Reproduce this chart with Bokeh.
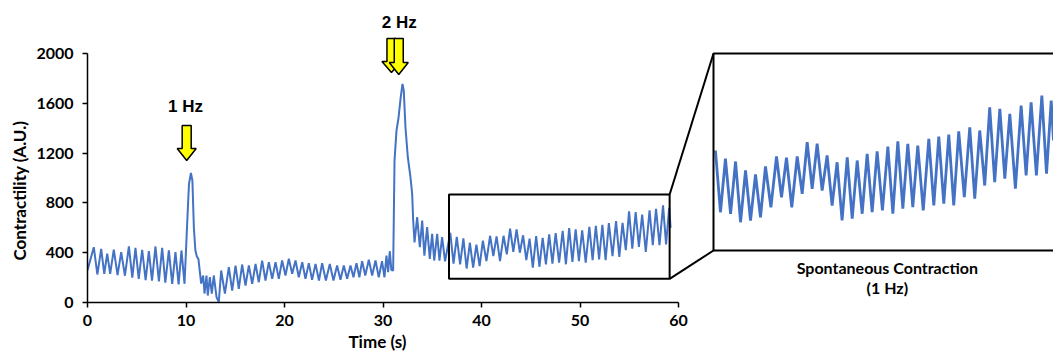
from bokeh.plotting import figure
from bokeh.models import Range1d, FixedTicker, Title
from bokeh.core.properties import value
from bokeh.embed import file_html
from bokeh.resources import INLINE

# ---------------- data (turning points of the recorded trace) ----------------
time_s = [
    0.0, 0.64, 1.0, 1.39, 1.7, 2.0, 2.3, 2.67, 3.05, 3.42, 3.8, 4.2, 4.55, 4.87, 5.2, 5.55, 5.9,
    6.23, 6.55, 6.9, 7.25, 7.58, 7.9, 8.26, 8.6, 8.93, 9.25, 9.54, 9.85,
    10.1, 10.3, 10.5, 10.65, 10.8, 10.95, 11.1, 11.26, 11.54, 11.74, 11.88, 12.08, 12.21, 12.42,
    12.62, 12.82, 13.1, 13.33, 13.57, 13.95,
    14.35, 14.69, 15.03, 15.36, 15.70, 16.04, 16.38, 16.72, 17.06, 17.39, 17.73, 18.07, 18.41,
    18.75, 19.09, 19.42, 19.76, 20.10, 20.44, 20.78,
    21.12, 21.45, 21.8, 22.13, 22.47, 22.8, 23.15, 23.5, 23.82, 24.2, 24.6, 24.97, 25.34, 25.68,
    26.02, 26.36, 26.7, 27.0, 27.31, 27.6, 27.88, 28.2, 28.56, 28.9, 29.24, 29.57, 29.9, 30.15,
    30.35, 30.52, 30.69, 30.85,
    31.03, 31.17, 31.37, 31.57, 31.8, 31.98, 32.11, 32.28, 32.52, 32.79, 32.96, 33.06, 33.2,
    33.47, 33.74, 33.98, 34.2, 34.48, 34.75, 34.99, 35.2, 35.5, 35.73, 36.0, 36.3,
    36.83, 37.16, 37.49, 37.83, 38.16, 38.49, 38.82, 39.15, 39.48, 39.81, 40.14, 40.5, 40.87,
    41.2, 41.53, 41.88, 42.24, 42.57, 42.9, 43.23, 43.56, 43.89, 44.22, 44.55, 44.88, 45.21,
    45.55, 45.88, 46.21, 46.54, 46.87, 47.2, 47.53, 47.88, 48.24, 48.57, 48.9, 49.23, 49.56,
    49.89, 50.22, 50.58, 50.95, 51.28, 51.61, 51.94, 52.27, 52.6, 52.93, 53.3, 53.66, 53.99,
    54.32, 54.65, 54.98, 55.31, 55.65, 55.98, 56.31, 56.68, 57.06, 57.39, 57.72, 58.07, 58.43,
    58.74, 59.05, 59.2,
]
contractility = [
    260, 444, 225, 431, 230, 393, 230, 425, 220, 404, 215, 450, 200, 439, 190, 423, 180,
    412, 175, 450, 170, 439, 160, 418, 150, 404, 145, 418, 150,
    600, 950, 1040, 980, 600, 420, 370, 350, 152, 217, 72, 217, 56, 203,
    72, 217, 43, 3, 257, 72,
    284, 96, 297, 110, 305, 136, 297, 150, 310, 163, 337, 177, 324,
    190, 324, 190, 337, 217, 351, 230,
    337, 203, 324, 190, 316, 182, 310, 177, 316, 177, 310, 177, 297, 182,
    297, 190, 297, 203, 316, 203, 332, 217, 343, 217, 337, 203, 332, 203,
    377, 244, 412, 260,
    257, 1140, 1381, 1480, 1650, 1756, 1700, 1408, 1167, 1006, 873, 666, 482,
    685, 444, 658, 377, 605, 350, 551, 337, 551, 337, 525, 330,
    560, 313, 527, 307, 516, 273, 480, 280, 464, 293, 496, 333, 536,
    373, 531, 333, 536, 387, 593, 407, 587, 400, 540, 340, 513, 280,
    533, 287, 520, 307, 547, 313, 557, 320, 576, 307, 597, 327, 587,
    333, 580, 320, 607, 340, 616, 347, 624, 340, 637, 373, 653, 367,
    640, 420, 733, 433, 727, 447, 707, 407, 740, 460, 753, 460, 780,
    467, 760, 600,
]

x_ticks = [0, 10, 20, 30, 40, 50, 60]
y_ticks = [0, 400, 800, 1200, 1600, 2000]
x_title = "Time (s)"
y_title = "Contractility (A.U.)"
stim_labels = ["1 Hz", "2 Hz"]
inset_caption = ["Spontaneous Contraction", "(1 Hz)"]

# zoomed window of the trace (s, A.U.)
zoom_t = (36.7, 59.1)
zoom_v = (190, 867)

# ---------------- layout ----------------
W, H = 1053, 356
BL, BB = 87, 54
FW, FH = W - BL, H - BB
SX, SY = 9.85, 0.1245            # px per second, px per A.U.
x_end = FW / SX
y_end = FH / SY

# inset placement (frame pixels) and scale
IL, IT, IB = 626, 53, 250
ISX = 15.11
iv_lo, iv_hi = 160, 948
ix0 = zoom_t[0] - IL / ISX
ix1 = ix0 + FW / ISX
isy = (IB - IT) / (iv_hi - iv_lo)
iy0 = iv_lo - (FH - IB) / isy
iy1 = iv_hi + IT / isy


def inset_to_main(x, y):
    return ((x - ix0) / (ix1 - ix0) * x_end, (y - iy0) / (iy1 - iy0) * y_end)


BLUE = "#4472C4"
FONT = "Lato"

p = figure(width=W, height=H, x_range=Range1d(0, x_end), y_range=Range1d(0, y_end),
           output_backend="svg", toolbar_location=None,
           min_border_left=BL, min_border_right=0, min_border_top=0, min_border_bottom=BB)
p.outline_line_color = None
p.xgrid.visible = False
p.ygrid.visible = False
p.background_fill_color = "white"
p.border_fill_color = "white"

p.extra_x_ranges = {"inset": Range1d(ix0, ix1)}
p.extra_y_ranges = {"inset": Range1d(iy0, iy1)}

# main trace
p.line(time_s, contractility, line_color=BLUE, line_width=2)

# inset trace (same data, magnified)
it = [t for t in time_s if t >= zoom_t[0]]
iv = contractility[len(time_s) - len(it):]
p.line(it, iv, line_color=BLUE, line_width=2.8, x_range_name="inset", y_range_name="inset")

# zoom box on the main chart
p.quad(left=[zoom_t[0]], right=[zoom_t[1]], bottom=[zoom_v[0]], top=[zoom_v[1]],
       fill_color=None, line_color="black", line_width=2)
# inset box
p.quad(left=[zoom_t[0]], right=[zoom_t[0] + 40], bottom=[iv_lo], top=[iv_hi],
       fill_color=None, line_color="black", line_width=2,
       x_range_name="inset", y_range_name="inset")
# connectors
tl = inset_to_main(zoom_t[0], iv_hi)
bl = inset_to_main(zoom_t[0], iv_lo)
p.segment(x0=[zoom_t[1], zoom_t[1]], y0=[zoom_v[1], zoom_v[0]],
          x1=[tl[0], bl[0]], y1=[tl[1], bl[1]], line_color="black", line_width=2)


# block arrows
def block_arrow(t, tip, length=35, head=11, shw=4.5, hhw=9.5):
    dx = lambda px: px / SX
    dy = lambda px: px / SY
    xs = [t - dx(shw), t + dx(shw), t + dx(shw), t + dx(hhw), t, t - dx(hhw), t - dx(shw)]
    ys = [tip + dy(length), tip + dy(length), tip + dy(head), tip + dy(head), tip,
          tip + dy(head), tip + dy(head)]
    return xs, ys


arrows = [block_arrow(10.07, 1141, 35, 12), block_arrow(30.86, 1847, 34, 11),
          block_arrow(31.6, 1831, 36, 12)]
p.patches([a[0] for a in arrows], [a[1] for a in arrows], fill_color="#FFFF00",
          line_color="black", line_width=1.5)

p.text(x=[9.95, 31.65], y=[1574, 2250], text=stim_labels, text_font=value("Liberation Sans"),
       text_font_style="bold", text_font_size="17px", text_align="center",
       text_baseline="middle", text_color="black")

p.text(x=[81.2, 81.2], y=[281, 120], text=inset_caption, text_font=value(FONT),
       text_font_style="bold", text_font_size="16px", text_align="center",
       text_baseline="middle", text_color="black")

# axes
p.xaxis.bounds = (0, 60)
p.yaxis.bounds = (0, 2000)
p.xaxis.ticker = FixedTicker(ticks=x_ticks)
p.yaxis.ticker = FixedTicker(ticks=y_ticks)
for ax in (p.xaxis[0], p.yaxis[0]):
    ax.axis_line_color = "black"
    ax.axis_line_width = 1.5
    ax.major_tick_line_color = "black"
    ax.major_tick_line_width = 1.5
    ax.major_tick_in = 0
    ax.major_tick_out = 5
    ax.minor_tick_line_color = None
    ax.major_label_text_font = FONT
    ax.major_label_text_font_style = "bold"
    ax.major_label_text_font_size = "16px"
    ax.major_label_text_color = "black"
p.xaxis.major_label_standoff = 7
p.yaxis.major_label_standoff = 9

# axis titles as side titles, offset to sit under / beside the 0-60 s axis
p.add_layout(Title(text=x_title, align="left", offset=261, standoff=0,
                   text_font=FONT, text_font_style="bold", text_font_size="17px",
                   text_color="black"), "below")
p.add_layout(Title(text=y_title, align="left", offset=42, standoff=8,
                   text_font=FONT, text_font_style="bold", text_font_size="17px",
                   text_color="black"), "left")

open("out.html", "w").write(file_html(p, INLINE))
